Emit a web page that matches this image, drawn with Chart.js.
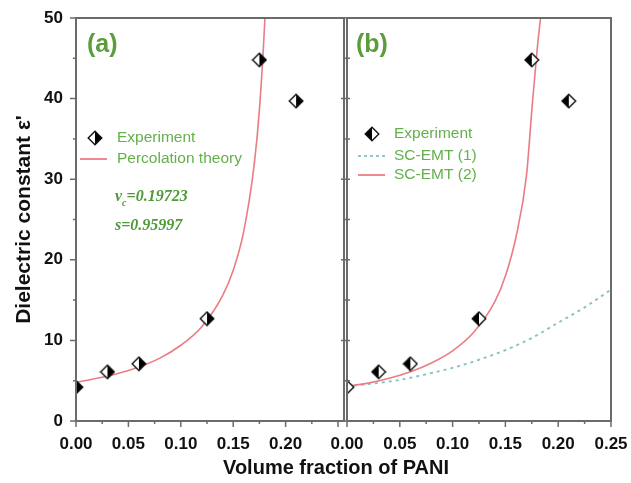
<!DOCTYPE html>
<html>
<head>
<meta charset="utf-8">
<script src="https://cdn.jsdelivr.net/npm/chart.js@4.4.1/dist/chart.umd.min.js"></script>
<style>
  html, body { margin: 0; padding: 0; background: #fff; }
  #wrap { position: relative; width: 631px; height: 483px; overflow: hidden; }
  #chartA { position: absolute; left: 0; top: 0; }
  #chartB { position: absolute; left: 320px; top: 0; }
  #xTitle {
    position: absolute; left: 336px; top: 456px; transform: translateX(-50%);
    font: bold 20px Arial, "Liberation Sans", sans-serif; color: #111; white-space: nowrap;
  }
</style>
</head>
<body>
<div id="wrap">
  <canvas id="chartA" width="349" height="483"></canvas>
  <canvas id="chartB" width="311" height="483"></canvas>
  <div id="xTitle">Volume fraction of PANI</div>
</div>
<script>
// measured samples (same set plotted in both panels)
const expX = [0, 0.03, 0.06, 0.125, 0.175, 0.21];
const expY = [4.2, 6.1, 7.1, 12.7, 44.8, 39.7];

// percolation theory fit, panel (a)
const percX = [0, 0.02, 0.04, 0.06, 0.08, 0.10, 0.12, 0.14, 0.15, 0.16, 0.17, 0.175, 0.18, 0.182];
const percY = [4.8, 5.3, 5.9, 6.7, 7.8, 9.4, 11.7, 15.6, 18.7, 23.5, 31.8, 38.6, 49.3, 55.5];

// SC-EMT curves, panel (b)
const emt1X = [0, 0.025, 0.05, 0.075, 0.10, 0.125, 0.15, 0.175, 0.20, 0.225, 0.25];
const emt1Y = [4.3, 4.65, 5.1, 5.8, 6.6, 7.6, 8.8, 10.3, 12.2, 14.1, 16.3];
const emt2X = [0, 0.02, 0.04, 0.06, 0.08, 0.10, 0.12, 0.14, 0.15, 0.16, 0.17, 0.175, 0.18, 0.185];
const emt2Y = [4.3, 4.7, 5.3, 6.1, 7.2, 8.7, 11.0, 14.8, 18.0, 22.8, 30.5, 38.5, 46, 52];

const yTicks = [0, 10, 20, 30, 40, 50];
const xTicksA = [0, 0.05, 0.10, 0.15, 0.20];
const xTicksB = [0, 0.05, 0.10, 0.15, 0.20, 0.25];

const FONT = 'Arial, "Liberation Sans", sans-serif';
const GREY = '#6b6b6b';
const RED = '#ea7d84';
const TEAL = '#86c3c3';
const LEG_GREEN = '#63b04c';

const toPoints = (xs, ys) => xs.map((x, i) => ({ x, y: ys[i] }));

// half black / half white diamond used as point style
function halfDiamond(blackRight) {
  const c = document.createElement('canvas');
  c.width = c.height = 16;
  const g = c.getContext('2d');
  const m = 8, r = 6.8;
  g.beginPath();
  g.moveTo(m, m - r); g.lineTo(m + r, m); g.lineTo(m, m + r); g.lineTo(m - r, m); g.closePath();
  g.fillStyle = '#fff'; g.fill();
  g.beginPath();
  g.moveTo(m, m - r); g.lineTo(blackRight ? m + r : m - r, m); g.lineTo(m, m + r); g.closePath();
  g.fillStyle = '#000'; g.fill();
  g.beginPath();
  g.moveTo(m, m - r); g.lineTo(m + r, m); g.lineTo(m, m + r); g.lineTo(m - r, m); g.closePath();
  g.strokeStyle = '#111'; g.lineWidth = 1.4; g.stroke();
  return c;
}
const markA = halfDiamond(true);
const markB = halfDiamond(false);

// frame, tick marks and in-plot labels
function decor(opts) {
  return {
    id: 'decor',
    afterDatasetsDraw(chart) {
      const { ctx, chartArea: a, scales: { x, y } } = chart;
      ctx.save();
      ctx.strokeStyle = GREY;
      ctx.lineWidth = 1.5;
      ctx.beginPath();
      for (let i = 0; i * 0.025 <= x.max + 1e-9; i++) {
        const px = x.getPixelForValue(i * 0.025);
        const len = i % 2 ? 3 : 6;
        ctx.moveTo(px, a.bottom); ctx.lineTo(px, a.bottom + len);
      }
      for (let i = 0; i <= 10; i++) {
        const py = y.getPixelForValue(i * 5);
        const len = i % 2 ? 3 : 6;
        if (opts.outerTicks) { ctx.moveTo(a.left - len, py); ctx.lineTo(a.left, py); }
        else { ctx.moveTo(a.left - len, py); ctx.lineTo(a.left + 3, py); }
      }
      ctx.stroke();
      ctx.lineWidth = 2;
      ctx.strokeRect(a.left, a.top, a.right - a.left, a.bottom - a.top);
      opts.labels(ctx, a);
      ctx.restore();
    }
  };
}

function legendLine(ctx, x1, x2, yy, color, dash) {
  ctx.save();
  ctx.strokeStyle = color; ctx.lineWidth = 1.8;
  ctx.setLineDash(dash || []);
  ctx.beginPath(); ctx.moveTo(x1, yy); ctx.lineTo(x2, yy); ctx.stroke();
  ctx.restore();
}

function labelsA(ctx, a) {
  ctx.textBaseline = 'middle';
  ctx.fillStyle = '#5b9c3c';
  ctx.font = 'bold 25px ' + FONT;
  ctx.fillText('(a)', a.left + 11, a.top + 27);

  ctx.drawImage(markA, a.left + 11, a.top + 112);
  ctx.fillStyle = LEG_GREEN;
  ctx.font = '15.5px ' + FONT;
  ctx.fillText('Experiment', a.left + 41, a.top + 120);
  legendLine(ctx, a.left + 4, a.left + 31, a.top + 141, RED);
  ctx.fillStyle = LEG_GREEN;
  ctx.fillText('Percolation theory', a.left + 41, a.top + 141);

  ctx.fillStyle = '#4e9a38';
  ctx.font = 'italic bold 16px "Liberation Serif", serif';
  let px = a.left + 39;
  ctx.fillText('v', px, a.top + 179);
  px += ctx.measureText('v').width;
  ctx.font = 'italic bold 10px "Liberation Serif", serif';
  ctx.fillText('c', px, a.top + 185);
  px += ctx.measureText('c').width;
  ctx.font = 'italic bold 16px "Liberation Serif", serif';
  ctx.fillText('=0.19723', px, a.top + 179);
  ctx.fillText('s=0.95997', a.left + 39, a.top + 208);
}

function labelsB(ctx, a) {
  ctx.textBaseline = 'middle';
  ctx.fillStyle = '#5b9c3c';
  ctx.font = 'bold 25px ' + FONT;
  ctx.fillText('(b)', a.left + 9, a.top + 27);

  ctx.drawImage(markB, a.left + 17, a.top + 108);
  ctx.fillStyle = LEG_GREEN;
  ctx.font = '15.5px ' + FONT;
  ctx.fillText('Experiment', a.left + 47, a.top + 116);
  legendLine(ctx, a.left + 11, a.left + 38, a.top + 138, TEAL, [3, 3]);
  ctx.fillStyle = LEG_GREEN;
  ctx.fillText('SC-EMT (1)', a.left + 47, a.top + 138);
  legendLine(ctx, a.left + 11, a.left + 38, a.top + 157, RED);
  ctx.fillStyle = LEG_GREEN;
  ctx.fillText('SC-EMT (2)', a.left + 47, a.top + 157);
}

function curve(xs, ys, color, dash) {
  return {
    data: toPoints(xs, ys),
    showLine: true,
    borderColor: color,
    borderWidth: dash ? 1.9 : 1.6,
    borderDash: dash || [],
    pointRadius: 0,
    cubicInterpolationMode: 'monotone',
    clip: 0
  };
}

function markers(style) {
  return { data: toPoints(expX, expY), pointStyle: style, showLine: false, clip: 0 };
}

function xScale(max, ticks) {
  return {
    type: 'linear', min: 0, max: max,
    grid: { display: false, drawTicks: false },
    border: { display: false },
    afterBuildTicks: s => { s.ticks = ticks.map(value => ({ value })); },
    afterFit: s => { s.height = 62; s.paddingLeft = 0; s.paddingRight = 0; },
    ticks: {
      padding: 13, color: '#111', maxRotation: 0,
      font: { family: FONT, size: 17, weight: 'bold' },
      callback: v => v.toFixed(2)
    }
  };
}

const baseOptions = {
  responsive: false,
  animation: false,
  events: [],
  plugins: { legend: { display: false }, tooltip: { enabled: false } }
};

new Chart(document.getElementById('chartA'), {
  type: 'scatter',
  data: {
    datasets: [
      markers(markA),
      curve(percX, percY, RED)
    ]
  },
  options: {
    ...baseOptions,
    layout: { padding: { top: 18, right: 2, left: 0, bottom: 0 } },
    scales: {
      x: xScale(0.2557, xTicksA),
      y: {
        type: 'linear', min: 0, max: 50,
        grid: { display: false, drawTicks: false },
        border: { display: false },
        afterBuildTicks: s => { s.ticks = yTicks.map(value => ({ value })); },
        afterFit: s => { s.width = 76; s.paddingTop = 0; s.paddingBottom = 0; },
        ticks: { padding: 13, color: '#111', font: { family: FONT, size: 17, weight: 'bold' } },
        title: {
          display: true, text: "Dielectric constant ε'", color: '#111',
          padding: { top: 12, bottom: 0 },
          font: { family: FONT, size: 21, weight: 'bold' }
        }
      }
    }
  },
  plugins: [decor({ outerTicks: true, labels: labelsA })]
});

new Chart(document.getElementById('chartB'), {
  type: 'scatter',
  data: {
    datasets: [
      markers(markB),
      curve(emt2X, emt2Y, RED),
      curve(emt1X, emt1Y, TEAL, [3, 4])
    ]
  },
  options: {
    ...baseOptions,
    layout: { padding: { top: 18, right: 20, left: 27, bottom: 0 } },
    scales: {
      x: xScale(0.25, xTicksB),
      y: { type: 'linear', min: 0, max: 50, display: false }
    }
  },
  plugins: [decor({ outerTicks: false, labels: labelsB })]
});
</script>
</body>
</html>
